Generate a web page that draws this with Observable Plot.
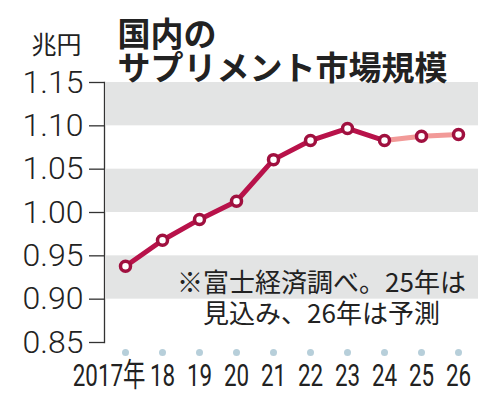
<!DOCTYPE html>
<html>
<head>
<meta charset="utf-8">
<script src="https://cdn.jsdelivr.net/npm/d3@7"></script>
<script src="https://cdn.jsdelivr.net/npm/@observablehq/plot@0.6"></script>
<style>
  html, body { margin: 0; padding: 0; background: #fff; }
  #chart svg { display: block; }
</style>
</head>
<body>
<div id="chart"></div>
<script>
// values (兆円)
const years = [2017, 2018, 2019, 2020, 2021, 2022, 2023, 2024, 2025, 2026];
const yearLabels = ["2017年", "18", "19", "20", "21", "22", "23", "24", "25", "26"];
const marketSize = [0.938, 0.968, 0.992, 1.013, 1.061, 1.083, 1.097, 1.083, 1.088, 1.090];
const lastActualYear = 2024; // 25 is an estimate, 26 a forecast
const yTicks = [0.85, 0.90, 0.95, 1.00, 1.05, 1.10, 1.15];
const bandRanges = [[0.90, 0.95], [1.00, 1.05], [1.10, 1.15]];

const titleLines = ["国内の", "サプリメント市場規模"];
const unitText = "兆円";
const noteLines = ["※富士経済調べ。25年は", "見込み、26年は予測"];

const renderChart = () => {
    const rows = years.map((year, i) => ({year, value: marketSize[i], label: yearLabels[i]}));
    const actual = rows.filter((d) => d.year <= lastActualYear);
    const outlook = rows.filter((d) => d.year >= lastActualYear);
    const bands = bandRanges.map(([lo, hi]) => ({lo, hi}));

    const sans = "'Noto Sans CJK JP', 'Noto Sans', sans-serif";
    const crimson = "#b8124a";

    // one text mark per line so the lines can be placed on their own
    const titleMarks = titleLines.map((line, i) => Plot.text([line], {
        frameAnchor: "top-left", dx: 13, dy: i === 0 ? -47 : -13,
        textAnchor: "start", lineAnchor: "middle",
        fontSize: 33, fontWeight: 700, fill: "#222"
    }));
    const noteMarks = noteLines.map((line, i) => Plot.text([line], {
        frameAnchor: "bottom-right", dx: -157, dy: i === 0 ? -59 : -28,
        textAnchor: "middle", lineAnchor: "middle",
        fontSize: 26, fill: "#222"
    }));

    const chart = Plot.plot({
        width: 493,
        height: 400,
        marginTop: 82,
        marginBottom: 58,
        marginLeft: 104,
        marginRight: 15,
        x: { type: "point", domain: years, padding: 0.5, axis: null },
        y: { domain: [0.85, 1.15], axis: null },
        style: { fontFamily: sans, color: "#222", background: "#fff" },
        marks: [
            // grey stripes behind the line
            Plot.rect(bands, { y1: "lo", y2: "hi", fill: "#e3e4e4", insetLeft: 2 }),
            Plot.frame({ anchor: "left", stroke: "#333", strokeWidth: 1.3 }),
            Plot.axisY({
                ticks: yTicks,
                tickFormat: d3.format(".2f"),
                tickSize: 15,
                tickPadding: 6,
                fontSize: 32,
                fontFamily: "Roboto, 'Liberation Sans', sans-serif",
                fontWeight: 300,
                stroke: "#333",
                strokeWidth: 1.3,
                fill: "#222"
            }),
            Plot.text([unitText], {
                frameAnchor: "top-left", dx: -48, dy: -37,
                textAnchor: "middle", lineAnchor: "middle",
                fontSize: 25, fill: "#222"
            }),
            ...titleMarks,
            ...noteMarks,
            // line: actual years dark, estimate / forecast light
            Plot.line(outlook, { x: "year", y: "value", stroke: "#f29a98", strokeWidth: 5 }),
            Plot.line(actual, { x: "year", y: "value", stroke: crimson, strokeWidth: 5 }),
            Plot.dot(rows, { x: "year", y: "value", r: 5, fill: "#fff", stroke: "#a0103f", strokeWidth: 3.5 }),
            // x axis: small dots with labels underneath
            Plot.dot(rows, { x: "year", frameAnchor: "bottom", dy: 10, r: 3.5, fill: "#b7cfda" }),
            Plot.text(rows.filter((d) => d.year !== years[0]), {
                x: "year", text: "label", frameAnchor: "bottom", dy: 33,
                lineAnchor: "middle", fontSize: 32, fill: "#222",
                fontFamily: "Roboto, sans-serif", className: "xlab"
            }),
            Plot.text(rows.filter((d) => d.year === years[0]), {
                x: "year", text: "label", frameAnchor: "bottom", dy: 33, dx: 20,
                textAnchor: "end", lineAnchor: "middle", fontSize: 32, fill: "#222",
                fontFamily: "Roboto, 'Noto Sans CJK JP', sans-serif", className: "xlab"
            })
        ]
    });

    // squeeze the year labels horizontally, like the condensed face in the print
    d3.select(chart).selectAll(".xlab text").attr("transform", function () {
        return (this.getAttribute("transform") || "") + " scale(0.7,1)";
    });

    document.getElementById("chart").append(chart);
};

if (document.readyState === "loading") {
    document.addEventListener("DOMContentLoaded", renderChart);
} else {
    renderChart();
}
</script>
</body>
</html>
